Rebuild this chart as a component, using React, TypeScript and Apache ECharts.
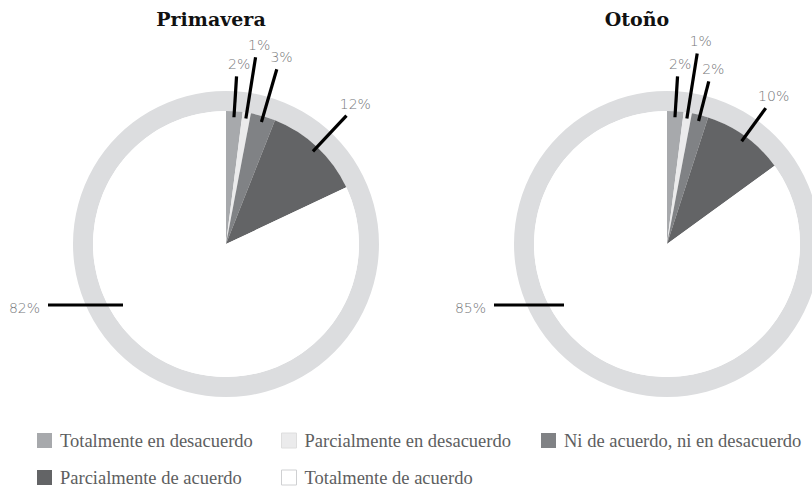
import React, { useEffect, useRef } from 'react';
import * as echarts from 'echarts';

// ---- Data ----
const categories = [
  'Totalmente en desacuerdo',
  'Parcialmente en desacuerdo',
  'Ni de acuerdo, ni en desacuerdo',
  'Parcialmente de acuerdo',
  'Totalmente de acuerdo',
];
const seasons = ['Primavera', 'Otoño'];
const primaveraValues = [2, 1, 3, 12, 82];
const otonoValues = [2, 1, 2, 10, 85];

// ---- Styles / layout ----
const sliceColors = ['#a7a9ac', '#ebebec', '#808285', '#636466', '#ffffff'];
const legendBorders = [null, '#dedede', null, null, '#cfd0d2'];
const RING_COLOR = '#dcdddf';
const PIE_R = 133;
const RING_R = [133, 153];
const LINE_INNER = 127;
const pieLayouts = [
  { center: [226, 244], titleX: 211, lineRadii: [168, 189, 182, 176], bigLen: 75 },
  { center: [667, 244], titleX: 637, lineRadii: [168, 193, 168, 168], bigLen: 70 },
];
const legendPos = [
  { left: 37, top: 431 },
  { left: 281, top: 431 },
  { left: 541, top: 431 },
  { left: 37, top: 468 },
  { left: 281, top: 468 },
];

const LABEL_FONT = { fontFamily: 'DejaVu Sans', fontWeight: 200 as any, fontSize: 14, color: '#76777a' };

export default function App() {
  const ref = useRef<HTMLDivElement>(null);
  useEffect(() => {
    if (!ref.current) return;
    const chart = echarts.init(ref.current, undefined, { renderer: 'svg' });
    const allValues = [primaveraValues, otonoValues];
    const series: any[] = [];
    allValues.forEach((vals, k) => {
      const lay = pieLayouts[k];
      const total = vals.reduce((a, b) => a + b, 0);
      const base = {
        type: 'pie',
        center: lay.center,
        radius: [0, PIE_R],
        startAngle: 90,
        clockwise: true,
        silent: true,
        avoidLabelOverlap: false,
        emphasis: { disabled: true },
      };
      // background ring
      series.push({
        type: 'pie',
        name: seasons[k] + '-ring',
        z: 1,
        center: lay.center,
        radius: RING_R,
        silent: true,
        startAngle: 90,
        label: { show: false },
        labelLine: { show: false },
        emphasis: { disabled: true },
        itemStyle: { color: RING_COLOR },
        data: [{ value: 1, name: '__ring' + k }],
      });
      // slices
      series.push({
        ...base,
        name: seasons[k],
        z: 3,
        label: { show: false },
        labelLine: { show: false },
        data: vals.map((v, i) => ({
          value: v,
          name: categories[i],
          itemStyle: { color: sliceColors[i] },
        })),
      });
      // transparent overlay carrying the labels and leader lines
      series.push({
        ...base,
        name: seasons[k] + '-labels',
        z: 6,
        itemStyle: { color: 'rgba(0,0,0,0)', borderWidth: 0 },
        label: {
          show: true,
          position: 'outside',
          formatter: '{c}%',
          ...LABEL_FONT,
        },
        labelLine: {
          show: true,
          length: 10,
          length2: 0,
          smooth: false,
          lineStyle: { color: '#000000', width: 3.2, cap: 'butt' },
        },
        labelLayout: (params: any) => {
          const i = params.dataIndex;
          let before = 0;
          for (let j = 0; j < i; j++) before += vals[j];
          const a = ((before + vals[i] / 2) / total) * Math.PI * 2;
          const [cx, cy] = lay.center;
          if (i === vals.length - 1) {
            const y = cy + 61;
            const x1 = cx - 103;
            const x2 = x1 - lay.bigLen;
            return {
              x: x2 - 8,
              y: y + 3,
              align: 'right',
              verticalAlign: 'middle',
              labelLinePoints: [[x1, y], [x1, y], [x2, y]],
            };
          }
          const s = Math.sin(a);
          const c = Math.cos(a);
          const r2 = lay.lineRadii[i];
          const p1 = [cx + LINE_INNER * s, cy - LINE_INNER * c];
          const p2 = [cx + r2 * s, cy - r2 * c];
          return {
            x: p2[0] + 2 + 10 * s,
            y: p2[1] - 5,
            align: 'center',
            verticalAlign: 'bottom',
            labelLinePoints: [p1, p2, p2],
          };
        },
        data: vals.map((v, i) => ({ value: v, name: categories[i] })),
      });
    });

    const legends = categories.map((name, i) => ({
      left: legendPos[i].left,
      top: legendPos[i].top,
      padding: 0,
      orient: 'horizontal',
      selectedMode: false,
      icon: 'rect',
      itemWidth: 15,
      itemHeight: 15,
      textStyle: {
        fontFamily: 'Liberation Serif',
        fontSize: 18.5,
        lineHeight: 15,
        color: '#5d5e60',
        padding: [0, 0, 0, 3],
      },
      data: [
        {
          name,
          itemStyle: legendBorders[i]
            ? { color: sliceColors[i], borderColor: legendBorders[i], borderWidth: 1 }
            : { color: sliceColors[i] },
        },
      ],
    }));

    const graphics = seasons.map((t, k) => ({
      type: 'text',
      x: pieLayouts[k].titleX,
      y: 19,
      silent: true,
      style: {
        text: t,
        fontFamily: 'DejaVu Serif',
        fontWeight: 'bold',
        fontSize: 19,
        fill: '#111111',
        textAlign: 'center',
        textVerticalAlign: 'middle',
      },
    }));

    chart.setOption({
      animation: false,
      backgroundColor: '#ffffff',
      legend: legends,
      graphic: graphics,
      series,
    });
    return () => chart.dispose();
  }, []);
  return (
    <div
      ref={ref}
      style={{ position: 'fixed', left: 0, top: 0, width: 812, height: 486 }}
    />
  );
}
